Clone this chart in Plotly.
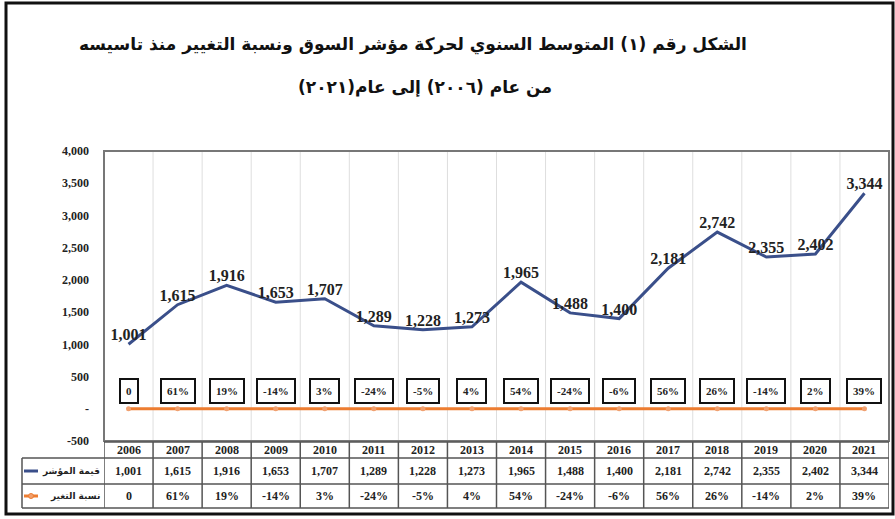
import plotly.graph_objects as go

years = ["2006", "2007", "2008", "2009", "2010", "2011", "2012", "2013",
         "2014", "2015", "2016", "2017", "2018", "2019", "2020", "2021"]
index_values = [1001, 1615, 1916, 1653, 1707, 1289, 1228, 1273,
                1965, 1488, 1400, 2181, 2742, 2355, 2402, 3344]
change_pct = [0, 61, 19, -14, 3, -24, -5, 4, 54, -24, -6, 56, 26, -14, 2, 39]
change_labels = ["0"] + [f"{v}%" for v in change_pct[1:]]
value_labels = [f"{v:,}" for v in index_values]
series_names = ["قيمة المؤشر", "نسبة التغير"]
title_lines = ["الشكل رقم (١) المتوسط السنوي لحركة مؤشر السوق ونسبة التغيير منذ تاسيسه",
               "من عام (٢٠٠٦) إلى عام(٢٠٢١)"]
y_tickvals = [-500, 0, 500, 1000, 1500, 2000, 2500, 3000, 3500, 4000]
y_ticktext = ["-500", "-"] + [f"{v:,}" for v in y_tickvals[2:]]

W, H = 895, 519
L, R, T, B = 104, 6, 151, 78
PH = H - T - B
PW = W - L - R


def py(y):  # pixel y -> paper y
    return (H - B - y) / PH


def px(x):  # pixel x -> paper x
    return (x - L) / PW


BLUE = "#3a4f8a"
ORANGE = "#ed7d31"
SERIF = "Liberation Serif"
n = len(years)
xs = list(range(n))

fig = go.Figure()
fig.add_trace(go.Scatter(
    x=xs, y=index_values, mode="lines+text", text=value_labels,
    textposition="top center",
    textfont=dict(family=SERIF, size=16, color="#222", weight="bold"),
    line=dict(color=BLUE, width=3), name=series_names[0], cliponaxis=False))
fig.add_trace(go.Scatter(
    x=xs, y=[v / 100 for v in change_pct], mode="lines+markers",
    line=dict(color=ORANGE, width=3),
    marker=dict(color="#f0a070", size=5, symbol="circle"),
    name=series_names[1], cliponaxis=False))

shapes = []
ann = []

# vertical gridlines inside plot
for i in range(1, n):
    shapes.append(dict(type="line", xref="x", yref="paper", x0=i - 0.5, x1=i - 0.5,
                       y0=0, y1=1, line=dict(color="#dedede", width=1), layer="below"))
# plot frame
shapes.append(dict(type="rect", xref="paper", yref="paper", x0=0, x1=1, y0=0, y1=1,
                   line=dict(color="#777", width=2)))

# outer border
shapes.append(dict(type="rect", xref="paper", yref="paper", x0=px(6), x1=px(893),
                   y0=py(514), y1=py(3), line=dict(color="#111", width=3)))

# percent boxes
for i, lab in enumerate(change_labels):
    ann.append(dict(x=i, y=change_pct[i] / 100, xref="x", yref="y", text=lab,
                    showarrow=False, yshift=18, xanchor="center", yanchor="middle",
                    font=dict(family=SERIF, size=11, color="#222", weight="bold"),
                    bordercolor="#111", borderwidth=2, borderpad=5, bgcolor="white"))

# data table
row_y = [442, 458, 484, 508]
line_c = dict(color="#555", width=1.5)
for k, yy in enumerate(row_y):
    x0 = px(104) if k == 0 else px(22)
    shapes.append(dict(type="line", xref="paper", yref="paper", x0=x0, x1=1,
                       y0=py(yy), y1=py(yy), line=line_c))
for i in range(n + 1):
    shapes.append(dict(type="line", xref="x", yref="paper", x0=i - 0.5, x1=i - 0.5,
                       y0=py(row_y[0]), y1=py(row_y[3]), line=line_c))
shapes.append(dict(type="line", xref="paper", yref="paper", x0=px(22), x1=px(22),
                   y0=py(row_y[1]), y1=py(row_y[3]), line=line_c))

row_texts = [years, value_labels, change_labels]
for r, texts in enumerate(row_texts):
    yc = (row_y[r] + row_y[r + 1]) / 2
    for i, t in enumerate(texts):
        ann.append(dict(x=i, y=py(yc), xref="x", yref="paper", text=t,
                        xanchor="center", yanchor="middle", showarrow=False,
                        font=dict(family=SERIF, size=12, color="#222", weight="bold")))

# legend cells
for r, (name, col) in enumerate(zip(series_names, [BLUE, ORANGE])):
    yc = (row_y[r + 1] + row_y[r + 2]) / 2
    ann.append(dict(x=px(102), y=py(yc), xref="paper", yref="paper", text=name,
                    xanchor="right", yanchor="middle", showarrow=False,
                    font=dict(family="DejaVu Sans", size=9, color="#222", weight="bold")))
    shapes.append(dict(type="line", xref="paper", yref="paper", x0=px(24), x1=px(38),
                       y0=py(yc), y1=py(yc), line=dict(color=col, width=3)))
    if r == 1:
        shapes.append(dict(type="circle", xref="paper", yref="paper",
                           x0=px(28.5), x1=px(33.5), y0=py(yc + 2.5), y1=py(yc - 2.5),
                           fillcolor="#f0a070", line=dict(color=ORANGE, width=1)))

# title
ann.append(dict(x=px(413), y=py(45), xref="paper", yref="paper",
                text=title_lines[0], showarrow=False, xanchor="center", yanchor="middle",
                font=dict(family="DejaVu Sans", size=17, color="#111", weight="bold")))
ann.append(dict(x=px(425), y=py(88), xref="paper", yref="paper",
                text=title_lines[1], showarrow=False, xanchor="center", yanchor="middle",
                font=dict(family="DejaVu Sans", size=17, color="#111", weight="bold")))

fig.update_layout(
    width=W, height=H, margin=dict(l=L, r=R, t=T, b=B),
    paper_bgcolor="white", plot_bgcolor="white", showlegend=False,
    shapes=shapes, annotations=ann,
    xaxis=dict(range=[-0.5, n - 0.5], showticklabels=False, showgrid=False,
               zeroline=False, ticks=""),
    yaxis=dict(range=[-500, 4000], tickvals=y_tickvals, ticktext=y_ticktext,
               showgrid=False, zeroline=False, ticks="", ticklabelstandoff=14,
               tickfont=dict(family=SERIF, size=12, color="#222", weight="bold")),
)

fig.write_html("out.html")
